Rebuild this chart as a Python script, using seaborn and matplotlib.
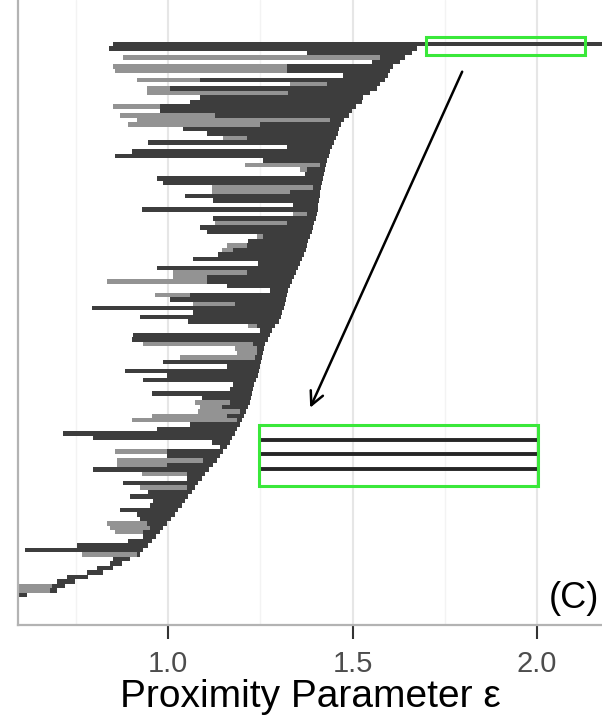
import matplotlib
matplotlib.use("Agg")
import matplotlib.pyplot as plt
import matplotlib.patches as mpatches
import numpy as np
import pandas as pd
import seaborn as sns

# Barcode of proximity intervals, listed from the top row down.
# Each row: light segment from start to switch, dark segment from switch to end.
starts = [0.851, 0.840, 1.377, 0.878, 1.553, 0.851, 0.856, 1.474, 0.916, 1.331,
          0.943, 0.943, 1.087, 1.060, 0.851, 0.978, 0.870, 0.916, 0.892, 1.041,
          1.106, 1.149, 0.946, 1.322, 0.902, 0.856, 1.257, 1.209, 1.358, 1.371,
          0.970, 0.986, 1.119, 1.119, 1.046, 1.122, 1.339, 0.930, 1.339, 1.122,
          1.127, 1.087, 1.106, 1.241, 1.217, 1.160, 1.146, 1.136, 1.068, 1.244,
          0.970, 1.014, 1.014, 0.835, 1.160, 1.276, 0.965, 1.005, 1.068, 0.794,
          1.068, 0.924, 1.054, 1.217, 1.249, 0.905, 0.902, 0.932, 1.182, 1.187,
          1.033, 0.986, 1.160, 0.883, 0.997, 0.932, 1.176, 1.168, 0.957, 1.092,
          1.073, 1.087, 1.081, 0.957, 0.902, 1.060, 0.970, 0.715, 0.797, 1.119,
          1.141, 0.856, 0.997, 0.862, 0.862, 0.797, 0.930, 1.051, 0.878, 0.924,
          0.946, 0.897, 0.959, 0.951, 0.870, 0.916, 0.924, 0.835, 0.843, 0.856,
          0.932, 0.892, 0.753, 0.612, 0.767, 0.851, 0.843, 0.808, 0.780, 0.726,
          0.699, 0.593, 0.593, 0.593]
switches = [0.851, 0.840, 1.377, 1.575, 1.553, 1.322, 1.322, 1.474, 1.087, 1.431,
            1.005, 1.325, 1.087, 1.060, 0.978, 0.978, 1.127, 1.439, 1.249, 1.041,
            1.106, 1.214, 0.946, 1.322, 0.902, 0.856, 1.257, 1.412, 1.377, 1.371,
            0.970, 0.986, 1.393, 1.331, 1.046, 1.122, 1.339, 0.930, 1.377, 1.122,
            1.322, 1.087, 1.106, 1.257, 1.217, 1.214, 1.176, 1.136, 1.068, 1.244,
            0.970, 1.214, 1.106, 1.106, 1.160, 1.276, 1.060, 1.005, 1.182, 0.794,
            1.068, 0.924, 1.054, 1.241, 1.249, 0.905, 0.902, 1.230, 1.241, 1.241,
            1.236, 0.986, 1.160, 0.883, 0.997, 0.932, 1.176, 1.168, 0.957, 1.092,
            1.168, 1.146, 1.195, 1.160, 1.187, 1.060, 0.970, 0.715, 0.797, 1.119,
            1.141, 0.997, 0.997, 1.095, 0.997, 0.797, 1.051, 1.051, 0.878, 1.051,
            0.946, 0.897, 0.959, 0.951, 0.870, 0.916, 0.924, 0.943, 0.951, 0.932,
            0.932, 0.892, 0.753, 0.612, 0.916, 0.851, 0.843, 0.808, 0.780, 0.726,
            0.699, 0.686, 0.680, 0.593]
ends = [2.250, 1.675, 1.661, 1.642, 1.629, 1.610, 1.602, 1.596, 1.588, 1.575,
        1.566, 1.547, 1.528, 1.526, 1.509, 1.499, 1.490, 1.477, 1.469, 1.463,
        1.461, 1.455, 1.450, 1.444, 1.439, 1.436, 1.431, 1.428, 1.426, 1.423,
        1.420, 1.417, 1.415, 1.412, 1.412, 1.409, 1.407, 1.407, 1.404, 1.401,
        1.396, 1.393, 1.390, 1.385, 1.379, 1.377, 1.374, 1.369, 1.363, 1.358,
        1.352, 1.347, 1.341, 1.336, 1.331, 1.325, 1.322, 1.320, 1.317, 1.314,
        1.309, 1.306, 1.301, 1.290, 1.282, 1.276, 1.271, 1.263, 1.260, 1.257,
        1.255, 1.252, 1.249, 1.247, 1.244, 1.238, 1.233, 1.230, 1.228, 1.225,
        1.222, 1.217, 1.211, 1.206, 1.201, 1.195, 1.187, 1.182, 1.173, 1.168,
        1.160, 1.149, 1.141, 1.133, 1.122, 1.111, 1.100, 1.092, 1.081, 1.073,
        1.065, 1.054, 1.046, 1.038, 1.027, 1.019, 1.008, 0.997, 0.986, 0.978,
        0.967, 0.957, 0.946, 0.932, 0.924, 0.897, 0.875, 0.851, 0.824, 0.783,
        0.748, 0.721, 0.699, 0.618]

# zoomed inset: three bars of the top interval
inset_rows = [34.6, 31.5, 28.1]
inset_start = 1.252
inset_end = 2.000

xticks = [1.0, 1.5, 2.0]
xtick_labels = ["1.0", "1.5", "2.0"]

n = len(starts)
df = pd.DataFrame({"start": starts, "switch": switches, "end": ends})
df["row"] = np.arange(n)[::-1]

sns.set_theme(style="whitegrid")
plt.rcParams["font.family"] = ["Liberation Sans", "DejaVu Sans"]

fig = plt.figure(figsize=(6.02, 7.19), dpi=100)
ax = fig.add_axes([18 / 602, 94 / 719, 1 - 18 / 602, 625 / 719])

light = "#939393"
dark = "#3d3d3d"
ax.barh(df["row"], df["switch"] - df["start"], left=df["start"], height=1.0,
        color=light, linewidth=0)
ax.barh(df["row"], df["end"] - df["switch"], left=df["switch"], height=1.0,
        color=dark, linewidth=0)

# green highlight boxes and arrow
green = "#3ae83a"
ax.add_patch(mpatches.Rectangle((1.699, 120.5), 0.431, 4.06, fill=False,
                                edgecolor=green, linewidth=2.2, zorder=5))
ax.add_patch(mpatches.Rectangle((1.247, 24.3), 0.756, 13.66, fill=False,
                                edgecolor=green, linewidth=2.2, zorder=5))
for r in inset_rows:
    ax.plot([inset_start, inset_end], [r, r], color="#262626", linewidth=2.8,
            solid_capstyle="butt", zorder=4)
ax.annotate("", xy=(1.385, 41.8), xytext=(1.797, 116.8),
            arrowprops=dict(arrowstyle="->", color="black", lw=1.8,
                            mutation_scale=24, shrinkA=0, shrinkB=0))

ax.text(2.100, -0.7, "(C)", fontsize=26, ha="center", va="center", color="black")

ax.set_xlim(0.593, 2.176)
ax.set_ylim(-6.7, 132.8)
ax.set_xticks(xticks)
ax.set_xticklabels(xtick_labels)
ax.set_xticks([0.75, 1.25, 1.75], minor=True)
ax.set_yticks([])
ax.grid(False, axis="y")
ax.grid(True, axis="x", which="major", color="#e6e6e6", linewidth=1.5)
ax.grid(True, axis="x", which="minor", color="#f3f3f3", linewidth=1.0)
ax.set_axisbelow(True)

for side in ["top", "right"]:
    ax.spines[side].set_visible(False)
for side in ["left", "bottom"]:
    ax.spines[side].set_color("#b3b3b3")
    ax.spines[side].set_linewidth(1.6)

ax.tick_params(axis="x", which="major", bottom=True, length=10, width=1.5,
               color="#333333", labelsize=21, labelcolor="#4d4d4d", pad=8)
ax.tick_params(axis="x", which="minor", bottom=False)
ax.set_xlabel("Proximity Parameter ε", fontsize=28, color="black", labelpad=1)
ax.set_ylabel("")

fig.savefig("out.png", dpi=100)
